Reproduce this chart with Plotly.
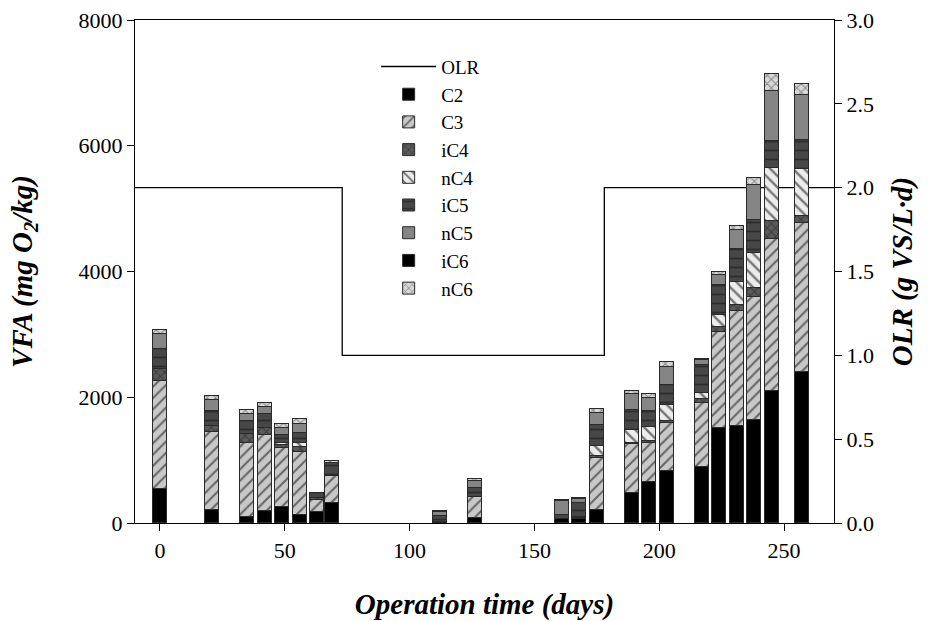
import plotly.graph_objects as go

days = [0, 21, 35, 42, 49, 56, 63, 69, 112, 126, 161, 168, 175, 189, 196, 203, 217, 224, 231, 238, 245, 257]
C2  = [541, 207, 101, 191, 260, 127, 180, 323, 10, 74, 60, 70, 207, 482, 657, 832, 896, 1506, 1548, 1638, 2104, 2407]
C3  = [1717, 1245, 1177, 1209, 928, 1007, 186, 425, 0, 345, 0, 10, 832, 769, 610, 753, 1008, 1537, 1829, 1962, 2413, 2359]
iC4 = [191, 91, 132, 106, 50, 80, 26, 0, 0, 0, 0, 0, 30, 26, 30, 32, 68, 79, 90, 133, 291, 122]
nC4 = [0, 0, 0, 0, 29, 53, 0, 20, 0, 0, 10, 15, 161, 202, 235, 260, 91, 186, 371, 556, 833, 742]
iC5 = [313, 243, 217, 227, 133, 170, 80, 190, 100, 143, 50, 230, 329, 318, 249, 318, 450, 477, 515, 530, 435, 462]
nC5 = [243, 170, 102, 107, 106, 138, 0, 0, 70, 101, 228, 50, 185, 250, 212, 291, 79, 159, 307, 557, 795, 715]
iC6 = [0, 0, 0, 0, 0, 0, 0, 0, 0, 0, 0, 0, 0, 0, 0, 0, 16, 0, 0, 0, 0, 0]
nC6 = [64, 69, 68, 68, 74, 84, 10, 22, 10, 37, 10, 17, 64, 52, 59, 70, 0, 43, 69, 106, 270, 175]

olr_days = [-10, 73, 178, 270]
olr_vals = [2.0, 1.0, 2.0, 2.0]

FONT = "Liberation Serif"

series = [
    ("C2", C2, dict(color="#000000")),
    ("C3", C3, dict(color="#c8c8c8", pattern=dict(shape="/", fgcolor="#000000", bgcolor="#c8c8c8", size=8, solidity=0.25))),
    ("iC4", iC4, dict(color="#4a4a4a", pattern=dict(shape="x", fgcolor="#1a1a1a", bgcolor="#5a5a5a", size=6, solidity=0.3))),
    ("nC4", nC4, dict(color="#e8e8e8", pattern=dict(shape="\\", fgcolor="#000000", bgcolor="#ececec", size=8, solidity=0.3))),
    ("iC5", iC5, dict(color="#444444", pattern=dict(shape="-", fgcolor="#111111", bgcolor="#474747", size=9, solidity=0.2))),
    ("nC5", nC5, dict(color="#858585")),
    ("iC6", iC6, dict(color="#000000")),
    ("nC6", nC6, dict(color="#d0d0d0", pattern=dict(shape="x", fgcolor="#3a3a3a", bgcolor="#d8d8d8", size=6, solidity=0.3))),
]

fig = go.Figure()
fig.add_trace(go.Scatter(x=olr_days, y=olr_vals, mode="lines", line=dict(color="black", width=1.3, shape="hv"),
                         name="OLR", yaxis="y"))
for name, vals, mk in series:
    mk = dict(mk)
    mk["line"] = dict(color="#2a2a2a", width=1)
    fig.add_trace(go.Bar(x=days, y=vals, name=name, width=5.6, marker=mk, yaxis="y2"))

tickfont = dict(family=FONT, size=22, color="black")
titlefont = dict(family=FONT, size=29, color="black", weight="bold", style="italic")

fig.update_layout(
    width=934, height=621,
    margin=dict(l=135, r=100, t=20, b=98, autoexpand=False),
    paper_bgcolor="white", plot_bgcolor="white",
    barmode="stack", bargap=0,
    showlegend=True,
    legend=dict(x=0.345, y=0.945, xanchor="left", yanchor="top", traceorder="normal", itemwidth=55,
                font=dict(family=FONT, size=19, color="black"), bgcolor="rgba(0,0,0,0)"),
    xaxis=dict(range=[-10, 270], tick0=0, dtick=50, showgrid=False, zeroline=False, automargin=False,
               showline=True, linecolor="black", linewidth=1.3, mirror=True,
               ticks="outside", ticklen=7, tickcolor="black", tickfont=tickfont,
               title=dict(text="Operation time (days)", font=titlefont, standoff=32)),
    yaxis=dict(range=[0, 3], dtick=0.5, tickformat=".1f", side="right", showgrid=False, zeroline=False,
               automargin=False,
               showline=True, linecolor="black", linewidth=1.3,
               ticks="outside", ticklen=7, tickcolor="black", tickfont=tickfont,
               title=dict(text="OLR (g VS/L·d)", font=titlefont, standoff=18)),
    yaxis2=dict(range=[0, 8000], dtick=2000, side="left", overlaying="y", showgrid=False, zeroline=False,
                automargin=False,
                showline=True, linecolor="black", linewidth=1.3,
                ticks="outside", ticklen=7, tickcolor="black", tickfont=tickfont,
                title=dict(text="VFA (mg O<sub>2</sub>/kg)", font=titlefont, standoff=37)),
)

fig.write_html("out.html")
